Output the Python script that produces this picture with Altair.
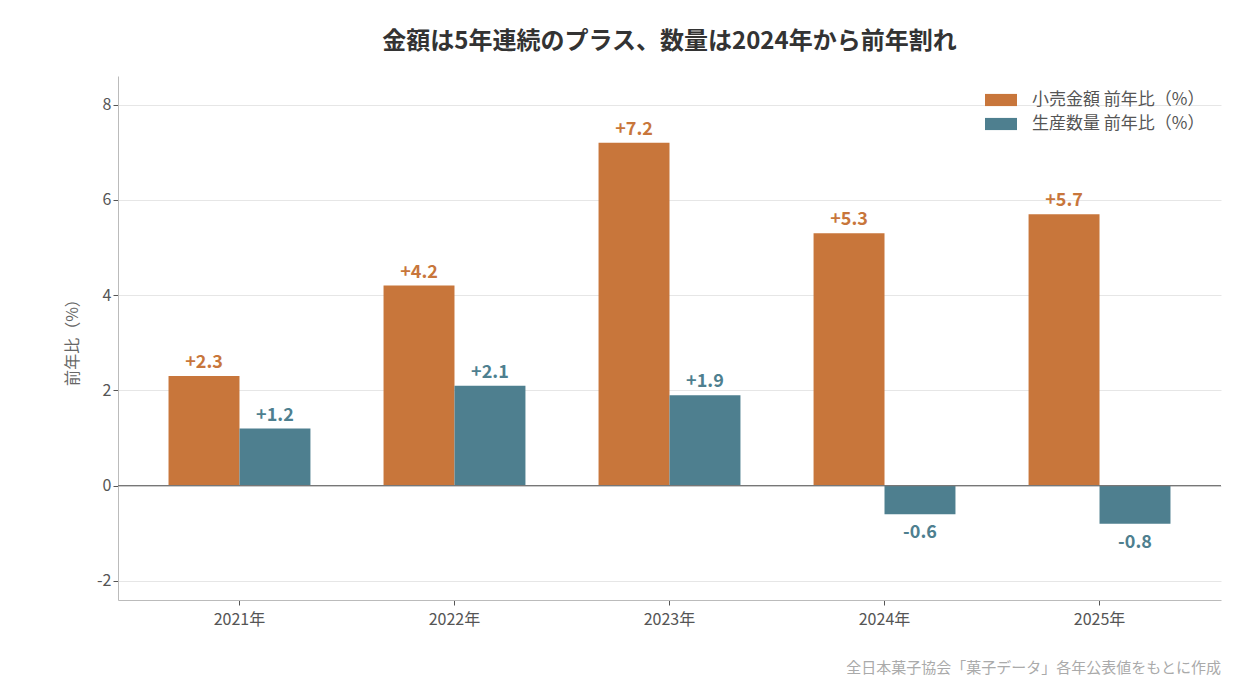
import altair as alt
import pandas as pd

years = ["2021年", "2022年", "2023年", "2024年", "2025年"]
series_names = ["小売金額 前年比（%）", "生産数量 前年比（%）"]
amount = [2.3, 4.2, 7.2, 5.3, 5.7]
volume = [1.2, 2.1, 1.9, -0.6, -0.8]
colors = ["#C8763B", "#4E7F8F"]
title_text = "金額は5年連続のプラス、数量は2024年から前年割れ"
source_text = "全日本菓子協会「菓子データ」各年公表値をもとに作成"

rows = []
for i, y in enumerate(years):
    for s, vals in zip(series_names, [amount, volume]):
        v = vals[i]
        rows.append({"year": y, "series": s, "value": v,
                     "label": (f"+{v:.1f}" if v > 0 else f"{v:.1f}")})
df = pd.DataFrame(rows)

FONT = "Noto Sans CJK JP"

x_enc = alt.X("year:N", sort=years, title=None,
              scale=alt.Scale(paddingInner=0.34, paddingOuter=0.235),
              axis=alt.Axis(labelAngle=0, labelFontSize=16, labelColor="#555",
                            labelFont=FONT, tickColor="#555", tickSize=5,
                            domainColor="#bbb", labelPadding=6))
xo = alt.XOffset("series:N", sort=series_names,
                 scale=alt.Scale(paddingInner=0, paddingOuter=0))
y_scale = alt.Scale(domain=[-2.4, 8.6], nice=False, zero=False)
color = alt.Color("series:N", sort=series_names,
                  scale=alt.Scale(domain=series_names, range=colors),
                  legend=alt.Legend(title=None, orient="none",
                                    legendX=867, legendY=8,
                                    symbolType="M-1,-0.38H1V0.38H-1Z",
                                    symbolSize=1024, symbolStrokeWidth=0,
                                    labelFontSize=17, labelColor="#555",
                                    labelFont=FONT, rowPadding=0, labelLimit=400,
                                    labelOffset=15, padding=0))

base = alt.Chart(df)

bars = base.mark_bar().encode(
    x=x_enc, xOffset=xo,
    y=alt.Y("value:Q", scale=y_scale, title="前年比（%）",
            axis=alt.Axis(values=[-2, 0, 2, 4, 6, 8], labelFontSize=16,
                          labelExpr="datum.value + ''",
                          labelColor="#555", labelFont=FONT, titleFont=FONT,
                          titleFontSize=16, titleColor="#666",
                          titleFontWeight="normal", tickColor="#555",
                          tickSize=5, domainColor="#bbb", gridColor="#e6e6e6",
                          titlePadding=16)),
    color=color,
)

zero = alt.Chart(pd.DataFrame({"v": [0]})).mark_rule(color="#777", strokeWidth=1.2).encode(
    y=alt.Y("v:Q", scale=y_scale))

pos_text = base.transform_filter("datum.value > 0").mark_text(
    baseline="bottom", dy=-4, fontSize=18, fontWeight="bold", font=FONT).encode(
    x=alt.X("year:N", sort=years), xOffset=xo,
    y=alt.Y("value:Q", scale=y_scale), text="label:N",
    color=alt.Color("series:N", sort=series_names,
                    scale=alt.Scale(domain=series_names, range=colors), legend=None))

neg_text = base.transform_filter("datum.value < 0").mark_text(
    baseline="top", dy=10, fontSize=18, fontWeight="bold", font=FONT).encode(
    x=alt.X("year:N", sort=years), xOffset=xo,
    y=alt.Y("value:Q", scale=y_scale), text="label:N",
    color=alt.Color("series:N", sort=series_names,
                    scale=alt.Scale(domain=series_names, range=colors), legend=None))

source = alt.Chart(pd.DataFrame({"t": [source_text]})).mark_text(
    align="right", baseline="middle", fontSize=15, color="#aaa", font=FONT).encode(
    x=alt.value(1103), y=alt.value(592), text="t:N")

chart = alt.layer(bars, zero, pos_text, neg_text, source).properties(
    width=1103, height=524,
    title=alt.TitleParams(title_text, fontSize=24, fontWeight="bold", color="#333",
                          font=FONT, anchor="middle", offset=22),
).configure(font=FONT, padding={"left": 56, "top": 22, "right": 5, "bottom": 5}
).configure_view(stroke=None, strokeWidth=0)

chart.save("out.html", embed_options={"renderer": "svg", "actions": False})
